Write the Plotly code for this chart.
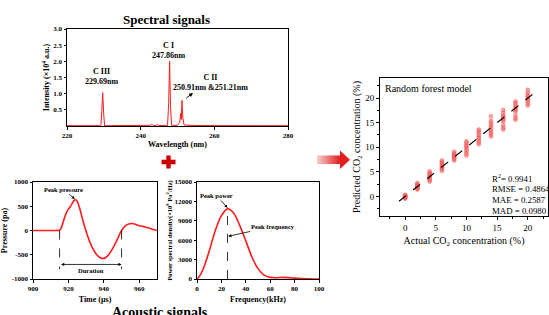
import plotly.graph_objects as go

# ---------------- data ----------------
wavelength = [220, 222, 225, 227, 229.2, 229.45, 229.69, 229.95, 230.2, 232, 235, 238, 241, 242.6, 243.0, 243.4,
              244.2, 244.6, 245.0, 246, 247.3, 247.6, 247.86, 248.1, 248.4, 250.0, 250.6, 250.91, 251.05,
              251.21, 251.45, 251.8, 253, 255, 258, 262, 266, 270, 275, 280]
intensity = [0.01, 0.015, 0.01, 0.012, 0.01, 0.45, 1.03, 0.4, 0.01, 0.012, 0.01, 0.015, 0.012, 0.02, 0.06, 0.015,
             0.015, 0.05, 0.012, 0.012, 0.02, 0.7, 2.0, 0.6, 0.02, 0.02, 0.12, 0.4, 0.2,
             0.79, 0.25, 0.03, 0.02, 0.015, 0.012, 0.01, 0.012, 0.01, 0.012, 0.01]

time_us = [900, 905, 910, 914, 915, 916, 917, 918, 919, 920, 921, 922, 923, 924, 925, 926, 927, 928, 929, 930,
           932, 934, 936, 938, 940, 942, 944, 946, 948, 950, 952, 954, 956, 958, 960, 962, 964, 966, 968, 970]
pressure = [0, 0, 0, 0, 5, 60, 170, 290, 380, 440, 490, 550, 610, 635, 600, 500, 370, 230, 100, -20,
            -230, -390, -500, -560, -575, -530, -430, -300, -150, 0, 90, 135, 145, 125, 100, 85, 65, 45, 20, 0]

freq_khz = [0, 2, 5, 10, 15, 20, 25, 30, 35, 40, 45, 50, 55, 60, 65, 70, 75, 80, 85, 90, 100]
psd = [0, 400, 1500, 4300, 7500, 9800, 10850, 10200, 8300, 5900, 3400, 1600, 600, 250, 200, 250, 220, 130, 60, 30, 0]

rf_groups = {
    0: [-0.5, -0.3, -0.2, -0.1, 0.0, 0.1, 0.2, 0.3],
    2: [1.4, 1.6, 1.8, 2.0, 2.1, 2.3, 2.5, 2.7],
    4: [3.0, 3.3, 3.6, 3.9, 4.1, 4.3, 4.6, 4.8, 5.1],
    6: [5.2, 5.5, 5.8, 6.0, 6.2, 6.5, 6.8, 7.0, 7.3],
    8: [7.3, 7.6, 7.9, 8.1, 8.3, 8.5, 8.8, 9.1],
    10: [8.3, 8.7, 9.1, 9.5, 9.9, 10.2, 10.5, 10.9, 11.2],
    12: [10.6, 11.0, 11.4, 11.8, 12.1, 12.5, 12.9, 13.3, 13.6],
    14: [12.2, 12.6, 13.0, 13.4, 13.8, 14.2, 14.6, 15.0, 15.4, 16.3],
    16: [13.6, 14.0, 14.5, 15.3, 15.6, 15.9, 16.2, 16.5, 17.0, 17.6],
    18: [15.6, 16.0, 16.5, 17.3, 17.6, 17.9, 18.2, 18.6, 19.0, 19.3],
    20: [18.5, 18.9, 19.3, 19.7, 20.0, 20.3, 20.7, 21.1, 21.7],
}
rf_actual = [k for k, v in rf_groups.items() for _ in v]
rf_pred = [y for v in rf_groups.values() for y in v]
fit_x = [-1, 21]
fit_y = [-1, 21]
stats_text = ["R<sup>2</sup>= 0.9941", "RMSE = 0.4864", "MAE = 0.2587", "MAD = 0.0980"]

psd_ticks = [0, 3000, 6000, 9000, 12000, 15000]
pressure_ticks = [-1000, -500, 0, 500, 1000]

# ---------------- helpers ----------------
W, H = 549, 315
def px(x):
    return x / W
def py(y):
    return 1 - y / H

SERIF = "Liberation Serif"
RED = "#ff1a1a"

fig = go.Figure()

fig.add_trace(go.Scatter(x=wavelength, y=intensity, mode="lines", line=dict(color=RED, width=1),
                         xaxis="x", yaxis="y", showlegend=False))
fig.add_trace(go.Scatter(x=time_us, y=pressure, mode="lines", line=dict(color=RED, width=1.6, shape="spline", smoothing=0.6),
                         xaxis="x2", yaxis="y2", showlegend=False))
fig.add_trace(go.Scatter(x=freq_khz, y=psd, mode="lines", line=dict(color=RED, width=1.6, shape="spline", smoothing=0.8),
                         xaxis="x3", yaxis="y3", showlegend=False))
fig.add_trace(go.Scatter(x=rf_actual, y=rf_pred, mode="markers",
                         marker=dict(size=4, color="rgba(245,110,110,0.6)", line=dict(width=0.5, color="rgba(235,70,70,0.7)")),
                         xaxis="x4", yaxis="y4", showlegend=False))
fig.add_trace(go.Scatter(x=fit_x, y=fit_y, mode="lines", line=dict(color="black", width=1.2, dash="dash"),
                         xaxis="x4", yaxis="y4", showlegend=False))

tf_small = dict(family=SERIF, size=7, color="black", weight="bold")
tt_small = dict(family=SERIF, size=8, color="black", weight="bold")
common = dict(showline=True, linecolor="black", linewidth=1, mirror=True, ticks="outside", ticklen=2.5,
              tickcolor="black", showgrid=False, zeroline=False, tickfont=tf_small, automargin=False)
rfax = dict(showline=True, linecolor="black", linewidth=1, mirror=True, ticks="outside", ticklen=3, tickcolor="black",
            showgrid=False, zeroline=False, automargin=False, tickvals=[0, 5, 10, 15, 20],
            minor=dict(ticks="outside", ticklen=2, dtick=2.5, tick0=0, tickcolor="black"),
            tickfont=dict(family=SERIF, size=9, color="black"))

fig.update_layout(
    width=W, height=H, margin=dict(l=0, r=0, t=0, b=0, autoexpand=False),
    paper_bgcolor="white", plot_bgcolor="white",
    font=dict(family=SERIF, color="black"),
    xaxis=dict(common, domain=[px(67), px(288)], range=[220, 280], tickvals=[220, 240, 260, 280], anchor="y",
               title=dict(text="Wavelength (nm)", font=tt_small, standoff=2)),
    yaxis=dict(common, domain=[py(126), py(29)], range=[0, 3], tickvals=[0.5, 1, 1.5, 2, 2.5, 3],
               ticktext=["0.5", "1.0", "1.5", "2.0", "2.5", "3.0"], anchor="x",
               title=dict(text="Intensity (×10<sup>4</sup> a.u.)", font=tt_small, standoff=2)),
    xaxis2=dict(common, domain=[px(33), px(157)], range=[900, 970], tickvals=[900, 920, 940, 960], anchor="y2",
                title=dict(text="Time (μs)", font=tt_small, standoff=4)),
    yaxis2=dict(common, domain=[py(279), py(182)], range=[-1000, 1000], tickvals=pressure_ticks,
                ticktext=[str(v) for v in pressure_ticks], anchor="x2",
                title=dict(text="Pressure (pa)", font=tt_small, standoff=2)),
    xaxis3=dict(common, domain=[px(197), px(319)], range=[0, 100], tickvals=[0, 20, 40, 60, 80, 100], anchor="y3",
                title=dict(text="Frequency(kHz)", font=tt_small, standoff=4)),
    yaxis3=dict(common, domain=[py(279), py(182)], range=[0, 15000], tickvals=psd_ticks,
                ticktext=[str(v) for v in psd_ticks], anchor="x3",
                title=dict(text="Power spectral density(×10<sup>8</sup> Pa<sup>2</sup>/Hz)", font=dict(tt_small, size=6.5), standoff=1)),
    xaxis4=dict(rfax, domain=[px(380), px(548)], range=[-4.1, 23.3], anchor="y4",
                title=dict(text="Actual CO<sub>2</sub> concentration (%)", font=dict(family=SERIF, size=10, color="black"), standoff=5)),
    yaxis4=dict(rfax, domain=[py(216), py(78)], range=[-4, 24.1], anchor="x4",
                title=dict(text="Predicted CO<sub>2</sub> concentration (%)", font=dict(family=SERIF, size=10, color="black"), standoff=2)),
)

ann = []
def t(text, x, y, xref="paper", yref="paper", size=8, bold=True, xanchor="center", yanchor="middle"):
    ann.append(dict(text=text, x=x, y=y, xref=xref, yref=yref, showarrow=False, xanchor=xanchor, yanchor=yanchor,
                    font=dict(family=SERIF, size=size, color="black", weight="bold" if bold else "normal")))

# titles
t("Spectral signals", px(166), py(19), size=13)
t("Acoustic signals", px(160), py(312), size=14)

# spectral labels
t("C III<br>229.69nm", 229.4, 1.52, "x", "y", size=8)
t("C I<br>247.86nm", 247.5, 2.32, "x", "y", size=8)
t("C II<br>250.91nm &251.21nm", 259.0, 1.36, "x", "y", size=8)
ann.append(dict(text="", x=254.2, y=1.02, xref="x", yref="y", ax=252.0, ay=0.83, axref="x", ayref="y",
                showarrow=True, arrowhead=2, arrowsize=0.8, arrowwidth=1, arrowcolor="black"))

# pressure annotations
ann.append(dict(text="Peak pressure", x=923.6, y=650, xref="x2", yref="y2", ax=917, ay=850, axref="x2", ayref="y2",
                showarrow=True, arrowhead=2, arrowsize=0.8, arrowwidth=0.8, arrowcolor="black",
                font=dict(family=SERIF, size=6.5, color="black", weight="bold")))
ann.append(dict(text="", x=950, y=-700, xref="x2", yref="y2", ax=915, ay=-700, axref="x2", ayref="y2",
                showarrow=True, arrowhead=2, arrowside="end+start", arrowsize=0.8, arrowwidth=0.8, arrowcolor="black"))
t("Duration", 932.5, -820, "x2", "y2", size=6.5)

# PSD annotations
ann.append(dict(text="Peak power", x=25, y=11000, xref="x3", yref="y3", ax=16, ay=12930, axref="x3", ayref="y3",
                showarrow=True, arrowhead=2, arrowsize=0.8, arrowwidth=0.8, arrowcolor="black",
                font=dict(family=SERIF, size=6.5, color="black", weight="bold")))
ann.append(dict(text="Peak frequency", x=25.6, y=6600, xref="x3", yref="y3", ax=62, ay=8130, axref="x3", ayref="y3",
                showarrow=True, arrowhead=2, arrowsize=0.8, arrowwidth=0.8, arrowcolor="black",
                font=dict(family=SERIF, size=6.5, color="black", weight="bold")))

# RF annotations
t("Random forest model", px(383), py(88), size=10, bold=False, xanchor="left")
for i, s in enumerate(stats_text):
    t(s, px(490), py(178 + i * 11), size=8.8, bold=False, xanchor="left")

fig.update_layout(annotations=ann)

shapes = []
# dashed guide lines
for xv in [915, 950]:
    shapes.append(dict(type="line", x0=xv, x1=xv, y0=0, y1=-800, xref="x2", yref="y2",
                       line=dict(color="black", width=0.8, dash="dash")))
shapes.append(dict(type="line", x0=25, x1=25, y0=0, y1=10850, xref="x3", yref="y3",
                   line=dict(color="black", width=0.8, dash="dash")))

# red plus
shapes.append(dict(type="rect", xref="paper", yref="paper", x0=px(161.5), x1=px(175.5), y0=py(164.3), y1=py(159.7),
                   fillcolor="#cc0000", line=dict(width=0)))
shapes.append(dict(type="rect", xref="paper", yref="paper", x0=px(166.3), x1=px(170.7), y0=py(168.5), y1=py(155.5),
                   fillcolor="#cc0000", line=dict(width=0)))

# gradient arrow
n = 12
x_start, x_end = 317, 341
for i in range(n):
    f = i / (n - 1)
    r = int(246 + (226 - 246) * f)
    g = int(200 + (30 - 200) * f)
    b = int(200 + (30 - 200) * f)
    shapes.append(dict(type="rect", xref="paper", yref="paper",
                       x0=px(x_start + (x_end - x_start) * i / n), x1=px(x_start + (x_end - x_start) * (i + 1) / n + 0.3),
                       y0=py(164), y1=py(155.5), fillcolor=f"rgb({r},{g},{b})", line=dict(width=0)))
shapes.append(dict(type="path", xref="paper", yref="paper",
                   path=f"M {px(340)},{py(150.5)} L {px(350)},{py(159.7)} L {px(340)},{py(169)} Z",
                   fillcolor="rgb(226,30,30)", line=dict(width=0)))

fig.update_layout(shapes=shapes)

fig.write_html("out.html", config={"displayModeBar": False},
               post_script="document.body.style.margin='0';document.body.style.overflow='hidden';")
